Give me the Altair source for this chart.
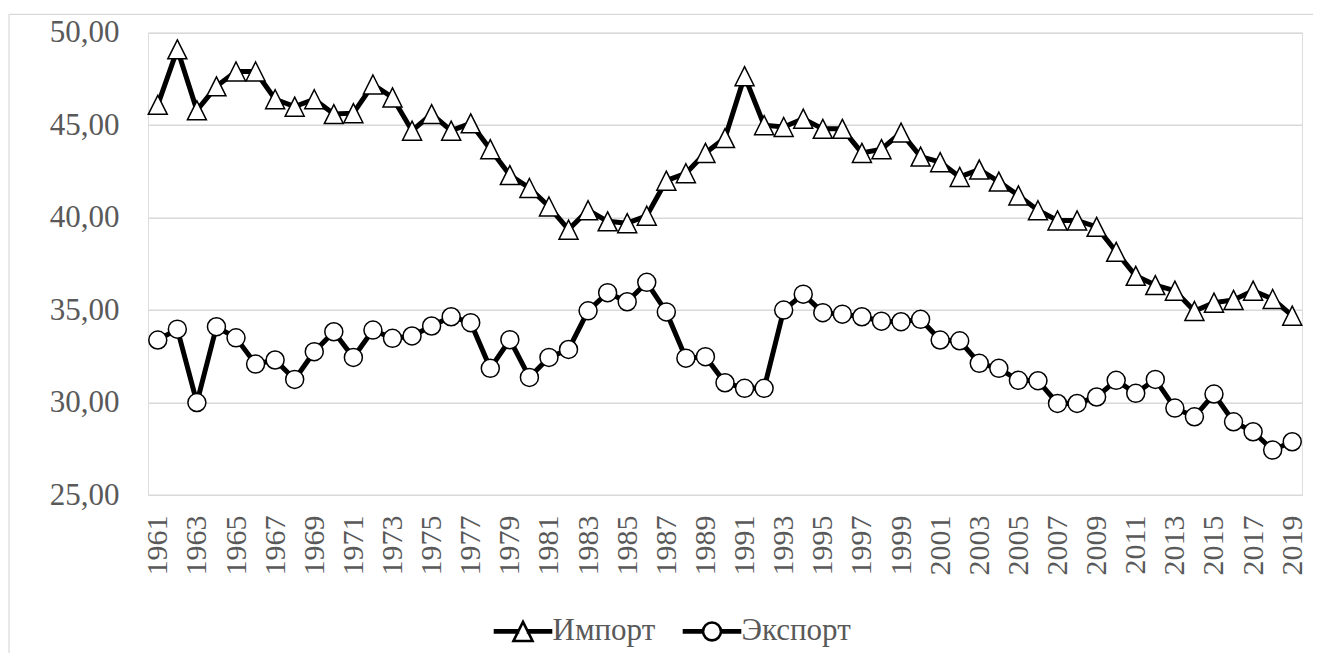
import altair as alt
import pandas as pd

years = list(range(1961, 2020))
import_vals = [46.1, 49.1, 45.8, 47.1, 47.9, 47.9, 46.4, 46.0, 46.4, 45.6,
               45.65, 47.2, 46.5, 44.7, 45.6, 44.7, 45.1, 43.7, 42.3, 41.6,
               40.6, 39.35, 40.4, 39.8, 39.7, 40.1, 42.0, 42.4, 43.5, 44.3,
               47.65, 45.0, 44.9, 45.35, 44.8, 44.8, 43.5, 43.7, 44.6, 43.3,
               43.0, 42.2, 42.6, 41.95, 41.2, 40.4, 39.85, 39.85, 39.5, 38.15,
               36.85, 36.35, 36.05, 34.95, 35.4, 35.55, 36.05, 35.6, 34.7]
export_vals = [33.38, 33.97, 30.0, 34.1, 33.5, 32.08, 32.3, 31.25, 32.75, 33.83,
               32.44, 33.92, 33.47, 33.6, 34.14, 34.64, 34.32, 31.85, 33.4, 31.36,
               32.44, 32.87, 34.96, 35.94, 35.45, 36.5, 34.9, 32.4, 32.48, 31.07,
               30.77, 30.77, 35.0, 35.86, 34.86, 34.78, 34.64, 34.4, 34.37, 34.5,
               33.38, 33.34, 32.12, 31.85, 31.2, 31.18, 29.95, 29.95, 30.3, 31.2,
               30.5, 31.25, 29.7, 29.23, 30.46, 28.96, 28.42, 27.43, 27.88]
series_names = ["Импорт", "Экспорт"]
y_ticks = [25, 30, 35, 40, 45, 50]
x_label_years = years[::2]

rows = []
for name, vals in zip(series_names, [import_vals, export_vals]):
    for yr, v in zip(years, vals):
        rows.append({"year": yr, "value": v, "series": name})
df = pd.DataFrame(rows)

FONT = "Liberation Serif"
GRAY = "#595959"
GRID = "#d9d9d9"

x_enc = alt.X("year:O", scale=alt.Scale(padding=0.5),
              axis=alt.Axis(values=x_label_years, labelAngle=270, title=None,
                            domain=False, ticks=False, labelFont=FONT,
                            labelFontSize=30, labelColor=GRAY, labelPadding=20,
                            grid=False))
y_enc = alt.Y("value:Q", scale=alt.Scale(domain=[25, 50], nice=False, zero=False),
              axis=alt.Axis(values=y_ticks, title=None, domain=False, ticks=False,
                            labelFont=FONT, labelFontSize=31, labelColor=GRAY,
                            labelPadding=29, gridColor=GRID, gridWidth=1.5,
                            labelExpr="replace(format(datum.value, '.2f'), '.', ',')"))

base = alt.Chart(df)

lines = base.mark_line(color="black", strokeWidth=5).encode(
    x=x_enc, y=y_enc, detail="series:N")

tri_path = "M0,-1 L1,1 L-1,1 Z"
imp_pts = base.transform_filter(alt.datum.series == "Импорт").mark_point(
    shape=tri_path, size=361, filled=True, fill="white", stroke="black",
    strokeWidth=1.5, opacity=1).encode(x=x_enc, y=y_enc)
exp_pts = base.transform_filter(alt.datum.series == "Экспорт").mark_point(
    shape="circle", size=324, filled=True, fill="white", stroke="black",
    strokeWidth=1.5, opacity=1).encode(x=x_enc, y=y_enc)

leg_imp = ("M-2.5,-0.1 H-0.45 V0.1 H-2.5 Z M0.45,-0.1 H2.5 V0.1 H0.45 Z "
           "M0,-0.85 L0.85,0.85 L-0.85,0.85 Z")
leg_exp = ("M-2.5,-0.1 H-0.8 V0.1 H-2.5 Z M0.8,-0.1 H2.5 V0.1 H0.8 Z "
           "M0.8,0 A0.8,0.8 0 1,1 -0.8,0 A0.8,0.8 0 1,1 0.8,0 Z")

legend_layer = base.transform_filter("false").mark_point(
    filled=False, color="black", strokeWidth=2.6, size=502,
    opacity=1).encode(
    shape=alt.Shape("series:N",
                    scale=alt.Scale(domain=series_names, range=[leg_imp, leg_exp]),
                    legend=alt.Legend(orient="none", legendX=359.5, legendY=583,
                                      direction="horizontal", title=None,
                                      labelFont=FONT, labelFontSize=31,
                                      labelColor=GRAY, labelOffset=14,
                                      columnPadding=23, symbolSize=502,
                                      symbolStrokeColor="black",
                                      symbolStrokeWidth=2.6, symbolOpacity=1)))

one = alt.Data(values=[{"a": 1}])
frame_top = alt.Chart(one).mark_rule(color=GRID, strokeWidth=1.2).encode(
    x=alt.value(-139), x2=alt.value(1300), y=alt.value(-18.4))
frame_left = alt.Chart(one).mark_rule(color=GRID, strokeWidth=1.2).encode(
    x=alt.value(-139), y=alt.value(-18.4), y2=alt.value(800))

chart = alt.layer(frame_top, frame_left, lines, imp_pts, exp_pts, legend_layer).properties(
    width=1154, height=462.3,
    padding={"left": 140, "top": 24.7, "right": 11, "bottom": 158},
    autosize=alt.AutoSizeParams(type="none"),
).configure_view(strokeWidth=0).configure(background="white")

chart.save("out.html", embed_options={"renderer": "svg", "actions": False})
